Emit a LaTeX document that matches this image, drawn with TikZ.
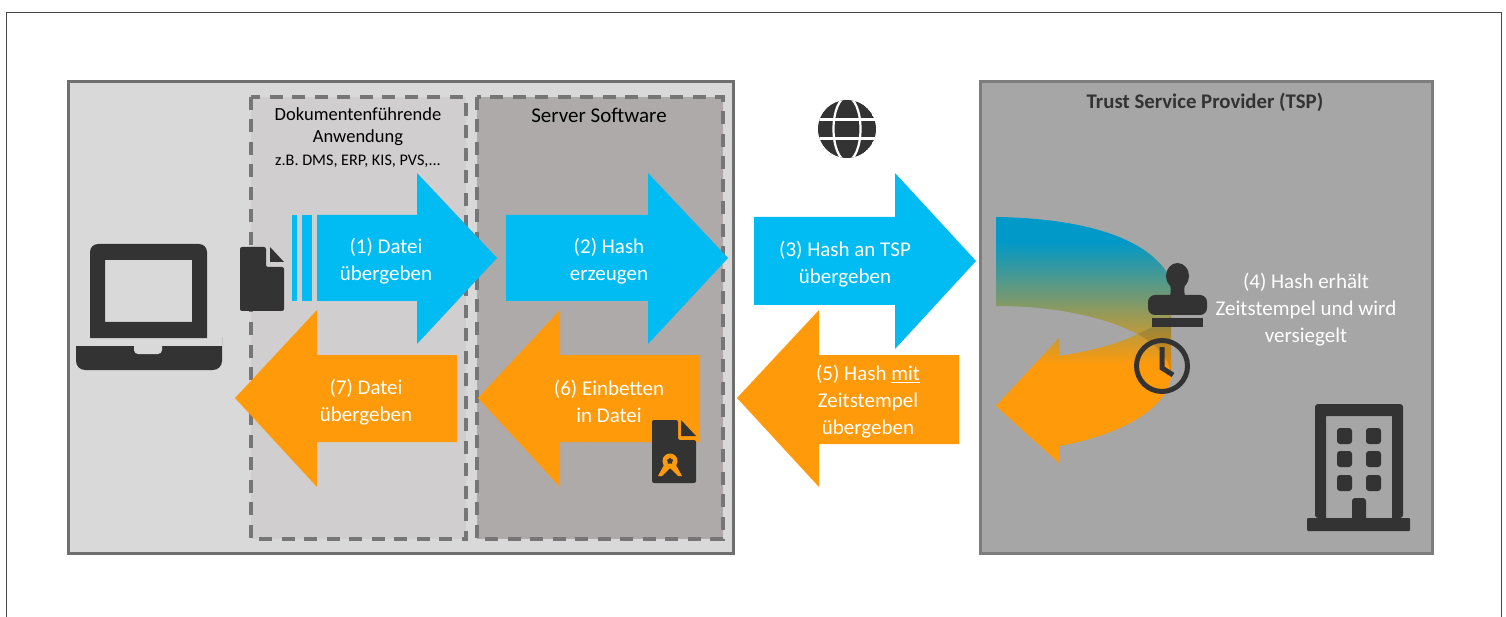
\documentclass[tikz,border=0pt]{standalone}
\usepackage{fontspec}
\setmainfont{Carlito}
\usetikzlibrary{shapes.geometric}
\definecolor{panelgrey}{HTML}{D9D9D9}
\definecolor{appgrey}{HTML}{D0CECE}
\definecolor{servergrey}{HTML}{AEAAAA}
\definecolor{tspgrey}{HTML}{A6A6A6}
\definecolor{edgegrey}{HTML}{6F6F6F}
\definecolor{icondark}{HTML}{333333}
\definecolor{flowblue}{HTML}{00BCF2}
\definecolor{floworange}{HTML}{FF9A0A}
\definecolor{bendblue}{HTML}{0099C8}
\pgfdeclareverticalshading{bendfade}{100bp}{
  color(0bp)=(floworange); color(45bp)=(floworange);
  color(70bp)=(bendblue); color(100bp)=(bendblue)}
\tikzset{
    panel/.style={draw=edgegrey, line width=3pt},
    appbox/.style={draw=edgegrey!95!white, line width=3.5pt, dash pattern=on 13pt off 9.5pt},
    icon/.style={fill=icondark},
    bluearrow/.style={fill=flowblue},
    orangearrow/.style={fill=floworange},
    flowtext/.style={text=white, align=center, font=\fontsize{21}{27}\selectfont},
    titletext/.style={text=black, align=center, font=\fontsize{18.5}{24}\selectfont},
}
\begin{document}
\begin{tikzpicture}[x=1pt, y=-1pt]
    \useasboundingbox (0, 0) rectangle (1506, 617);
    \fill[white] (0, 0) rectangle (1506, 617);
    \draw[icondark!90!white, line width=0.9pt] (6, 617) -- (6, 12) -- (1501, 12) -- (1501, 617);

    % boxes
    \draw[panel, fill=panelgrey] (68, 82) rectangle (733, 553);
    \draw[appbox, fill=appgrey] (251, 97) rectangle (466, 539);
    \draw[appbox, fill=servergrey] (477, 97) rectangle (723, 539);
    \draw[panel, draw=edgegrey!90!white, fill=tspgrey] (980, 82) rectangle (1432, 553);

    \node[titletext] (apptitle) at (358, 114) {Dokumentenführende};
    \node[titletext] (appname) at (358, 138) {Anwendung};
    \node[titletext, font=\fontsize{16.2}{20}\selectfont] (appnote) at (358, 161) {z.B. DMS, ERP, KIS, PVS,...};
    \node[titletext, font=\fontsize{21}{24}\selectfont] (servertitle) at (599, 115) {Server Software};
    \node[titletext, text=icondark, font=\fontsize{20.8}{24}\selectfont\bfseries] (tsptitle) at (1205, 102) {Trust Service Provider (TSP)};

    % blue arrows
    \fill[bluearrow] (292, 215) rectangle (297, 301);
    \fill[bluearrow] (302, 215) rectangle (312, 301);
    \fill[bluearrow] (317, 215) -- (417, 215) -- (417, 173) -- (497, 258) -- (417, 344) -- (417, 301) -- (317, 301) -- cycle;
    \fill[bluearrow] (506, 215) -- (648, 215) -- (648, 173) -- (728, 258) -- (648, 344) -- (648, 301) -- (506, 301) -- cycle;
    \fill[bluearrow] (754, 217) -- (895, 217) -- (895, 173) -- (976, 261) -- (895, 349) -- (895, 305) -- (754, 305) -- cycle;

    % orange arrows
    \fill[orangearrow] (457, 355) -- (317, 355) -- (317, 310) -- (235, 398) -- (317, 487) -- (317, 442) -- (457, 442) -- cycle;
    \fill[orangearrow] (700, 355) -- (560, 355) -- (560, 310) -- (478, 398) -- (560, 487) -- (560, 442) -- (700, 442) -- cycle;
    \fill[orangearrow] (959, 355) -- (819, 355) -- (819, 310) -- (737, 398) -- (819, 487) -- (819, 444) -- (959, 444) -- cycle;

    % bent arrow inside the provider box
    \shade[shading=bendfade] (996, 217) .. controls (1075, 218) and (1150, 235) .. (1171, 280)
        -- (1171, 378) .. controls (1165, 410) and (1120, 435) .. (1059, 446)
        -- (1059, 463) -- (996, 406) -- (1059, 338) -- (1059, 356)
        .. controls (1090, 351) and (1115, 345) .. (1138, 334)
        .. controls (1100, 315) and (1050, 306) .. (996, 306) -- cycle;
    \fill[black, opacity=0.12] (1138, 334) .. controls (1150, 328) and (1165, 322) .. (1171, 316)
        -- (1171, 378) .. controls (1171, 365) and (1165, 350) .. cycle;

    \node[flowtext] (step1) at (386, 261) {(1) Datei\\übergeben};
    \node[flowtext] (step2) at (609, 261) {(2) Hash\\erzeugen};
    \node[flowtext] (step3) at (845, 264) {(3) Hash an TSP\\übergeben};
    \node[flowtext] (step4) at (1306, 310) {(4) Hash erhält\\Zeitstempel und wird\\versiegelt};
    \node[flowtext] (step5) at (868, 401.5) {(5) Hash \underline{mit}\\Zeitstempel\\übergeben};
    \node[flowtext] (step6) at (609, 401) {(6) Einbetten\\in Datei};
    \node[flowtext] (step7) at (366, 402) {(7) Datei\\übergeben};

    % laptop
    \fill[icon, even odd rule] (90, 338) -- (90, 252) [rounded corners=8pt] -- (90, 244) -- (207, 244) [sharp corners] -- (207, 338) -- cycle
        (105, 260) rectangle (192, 322);
    \fill[icon, rounded corners=9pt] (76, 346) -- (76, 370) -- (222, 370) -- (222, 346) [sharp corners] -- (222, 346) -- cycle;
    \fill[icon] (76, 346) rectangle (222, 352);
    \fill[panelgrey, rounded corners=4pt] (134, 340) -- (134, 354) -- (162, 354) -- (162, 340) -- cycle;
    \fill[panelgrey] (130, 340) rectangle (166, 346);

    % file
    \fill[icon, rounded corners=2pt] (240, 247) -- (240, 311) -- (284, 311) -- (284, 267) -- (266, 267) -- (266, 247) -- cycle;
    \fill[icon] (270, 247) -- (284, 262) -- (270, 262) -- cycle;

    % globe
    \begin{scope}
        \clip (847, 129) circle (29);
        \fill[icon] (847, 129) circle (29);
        \draw[white, line width=2.2pt] (847, 129) ellipse (13.5 and 32);
        \draw[white, line width=2.2pt] (815, 119.5) -- (879, 119.5);
        \draw[white, line width=2.2pt] (815, 138.5) -- (879, 138.5);
    \end{scope}

    % stamp and clock
    \fill[icon] (1177.5, 276) ellipse (11.5 and 13);
    \fill[icon] (1170, 297) .. controls (1171, 290) and (1171, 286) .. (1169, 282) -- (1186, 282) .. controls (1184, 286) and (1184, 290) .. (1185, 297) -- cycle;
    \fill[icon, rounded corners=7pt] (1148, 315) -- (1148, 295) -- (1207, 295) -- (1207, 315) -- cycle;
    \fill[icon] (1152, 318) rectangle (1203, 327);
    \draw[icondark, line width=5pt] (1162, 366) circle (25.5);
    \draw[icondark, line width=5pt] (1162, 347) -- (1162, 368) -- (1173, 375);

    % signed file
    \fill[icon, rounded corners=2pt] (652, 420) -- (652, 483) -- (696, 483) -- (696, 440) -- (678, 440) -- (678, 420) -- cycle;
    \fill[icon] (681, 420) -- (696, 436) -- (681, 436) -- cycle;
    \fill[floworange] (664, 465) -- (670, 468) -- (662, 476) -- (658, 476) -- cycle;
    \fill[floworange] (676, 465) -- (670, 468) -- (678, 476) -- (682, 476) -- cycle;
    \fill[floworange] (670, 461) circle (7.5);
    \node[star, star points=5, fill=icondark, inner sep=0pt, minimum size=7pt] (seal) at (670, 461) {};

    % building
    \fill[icon, even odd rule, rounded corners=3pt] (1315, 518) -- (1315, 404) -- (1403, 404) -- (1403, 518) -- cycle
        [sharp corners] (1326, 416) rectangle (1392, 518);
    \fill[icon, rounded corners=1pt] (1307, 518) rectangle (1410, 531);
    \foreach \wx in {1337, 1366} {
        \foreach \wy in {428, 451, 475} {
            \fill[icon, rounded corners=3pt] (\wx, \wy) rectangle (\wx+15, \wy+16);
        }
    }
    \fill[icon, rounded corners=3pt] (1352, 498) rectangle (1366, 522);
\end{tikzpicture}
\end{document}
